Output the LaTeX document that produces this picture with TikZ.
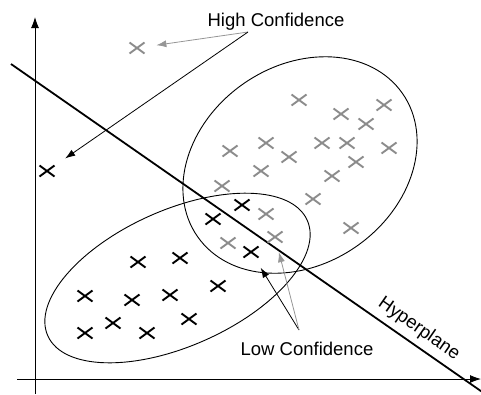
\documentclass[tikz,border=0pt]{standalone}
\usepackage{fontspec}
\setmainfont{Liberation Sans}
\usetikzlibrary{shapes.misc,arrows.meta}
\definecolor{mgray}{RGB}{140,140,140}
\definecolor{agray}{RGB}{150,150,150}
\tikzset{
  mk/.style={cross out,draw,line width=1.9pt,minimum width=15pt,minimum height=11pt,inner sep=0pt,outer sep=0pt},
  gx/.style={mk,draw=mgray},
  bx/.style={mk,draw=black},
  lbl/.style={font=\fontsize{18.5}{20}\selectfont,inner sep=0pt},
  blk/.style={line width=0.8pt,-{Latex[length=10pt,width=7pt]}},
  gry/.style={line width=0.8pt,draw=agray,-{Latex[length=10pt,width=7pt]},color=agray},
  axis/.style={line width=0.9pt,-{Latex[length=11pt,width=8pt]}},
  clus/.style={line width=0.9pt}
}
\begin{document}
\begin{tikzpicture}[x=1pt,y=1pt]
\useasboundingbox (0,0) rectangle (481,-394);
% axes
\coordinate (yb) at (35,-394);
\coordinate (yt) at (35,-17);
\coordinate (xl) at (17,-379);
\coordinate (xr) at (481,-379);
\draw[axis] (yb) -- (yt);
\draw[axis] (xl) -- (xr);
% clusters
\draw[clus,rotate around={35:(300,-165)}] (300,-165) ellipse [x radius=125, y radius=99];
\draw[clus,rotate around={24:(177.5,-278)}] (177.5,-278) ellipse [x radius=142, y radius=68];
% hyperplane
\coordinate (h1) at (11,-64);
\coordinate (h2) at (486,-394.6);
\begin{scope}
\clip (0,0) rectangle (481,-394);
\draw[line width=1.8pt] (h1) -- (h2);
\end{scope}
\node[lbl,rotate=-34.8] (hyp) at (419,-329) {Hyperplane};
% gray markers
\node[gx] (g0) at (137,-48) {};
\node[gx] (g1) at (299,-100) {};
\node[gx] (g2) at (341,-114) {};
\node[gx] (g3) at (384,-105) {};
\node[gx] (g4) at (366,-124) {};
\node[gx] (g5) at (230,-151) {};
\node[gx] (g6) at (266,-143) {};
\node[gx] (g7) at (322,-143) {};
\node[gx] (g8) at (347,-143) {};
\node[gx] (g9) at (389,-148) {};
\node[gx] (g10) at (289,-157) {};
\node[gx] (g11) at (261,-171) {};
\node[gx] (g12) at (356,-162) {};
\node[gx] (g13) at (332,-176) {};
\node[gx] (g14) at (222,-186) {};
\node[gx] (g15) at (313,-199) {};
\node[gx] (g16) at (266,-214) {};
\node[gx] (g17) at (351,-228) {};
\node[gx] (g18) at (228,-243) {};
\node[gx] (g19) at (275,-237) {};
% black markers
\node[bx] (b0) at (47,-171) {};
\node[bx] (b1) at (242,-205) {};
\node[bx] (b2) at (213,-219) {};
\node[bx] (b3) at (251,-252) {};
\node[bx] (b4) at (138,-262) {};
\node[bx] (b5) at (180,-258) {};
\node[bx] (b6) at (218,-286) {};
\node[bx] (b7) at (85,-296) {};
\node[bx] (b8) at (132,-300) {};
\node[bx] (b9) at (170,-295) {};
\node[bx] (b10) at (189,-319) {};
\node[bx] (b11) at (113,-323) {};
\node[bx] (b12) at (85,-333) {};
\node[bx] (b13) at (147,-333) {};
% labels
\node[lbl,anchor=base] (hc) at (276,-26) {High Confidence};
\node[lbl,anchor=base] (lc) at (307,-355) {Low Confidence};
\coordinate (hcs) at (248,-32);
\coordinate (lcs) at (299,-330);
% arrows
\draw[gry,shorten >=12pt] (hcs) -- (g0);
\draw[blk,shorten >=13pt] (hcs) -- (b0);
\draw[blk,shorten >=12pt] (lcs) -- (b3);
\draw[gry,shorten >=10pt] (lcs) -- (g19);
\end{tikzpicture}
\end{document}
